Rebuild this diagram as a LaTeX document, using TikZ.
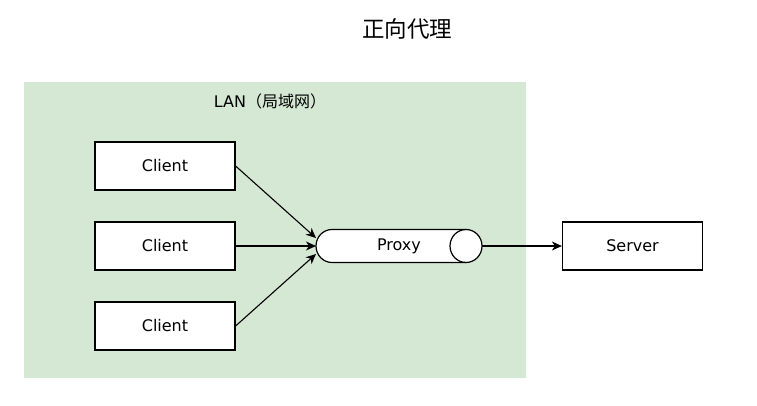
\documentclass[tikz,border=0pt]{standalone}
\usepackage{fontspec}
\setmainfont{DejaVu Sans}
\newfontfamily\cjk{Noto Sans CJK SC}
\usetikzlibrary{arrows.meta,calc}
\definecolor{langreen}{HTML}{D5E8D4}
\begin{document}
\begin{tikzpicture}[x=1pt,y=-1pt,
  box/.style={draw=black,fill=white,line width=1.2pt,minimum width=140pt,minimum height=48pt,inner sep=0pt,font=\fontsize{16}{19}\selectfont},
  conn/.style={line width=1.1pt,-{Stealth[length=10pt,width=9pt,inset=3pt]}},
  cyl/.style={draw=black,fill=white,line width=1.2pt},
]
\useasboundingbox (0,0) rectangle (757,406);
\fill[langreen] (24,82) rectangle (526,378);
\node (title) at (407,29) {\cjk\fontsize{22.5}{26}\selectfont 正向代理};
\node (lan) at (270,101) {\fontsize{16}{19}\selectfont LAN\cjk（局域网）};
\node[box] (c1) at (165,166) {Client};
\node[box] (c2) at (165,246) {Client};
\node[box] (c3) at (165,326) {Client};
\node[box] (server) at (632.5,246) {Server};
% proxy cylinder
\path[cyl] (332,229.5) -- (466,229.5) arc[start angle=90,end angle=-90,x radius=16pt,y radius=16.5pt]
  -- (332,262.5) arc[start angle=-90,end angle=-270,x radius=16pt,y radius=16.5pt] -- cycle;
\draw[cyl,fill=none] (466,229.5) arc[start angle=90,end angle=270,x radius=16pt,y radius=16.5pt];
\node[minimum width=166pt,minimum height=33pt,inner sep=0pt,outer sep=0pt,font=\fontsize{16}{19}\selectfont] (proxy) at (399,246) {Proxy};
\draw[conn] (c1.east) -- ($(proxy.west)+(0,-8)$);
\draw[conn] (c2.east) -- (proxy.west);
\draw[conn] (c3.east) -- ($(proxy.west)+(0,8)$);
\draw[conn] (proxy.east) -- (server.west);
\end{tikzpicture}
\end{document}
